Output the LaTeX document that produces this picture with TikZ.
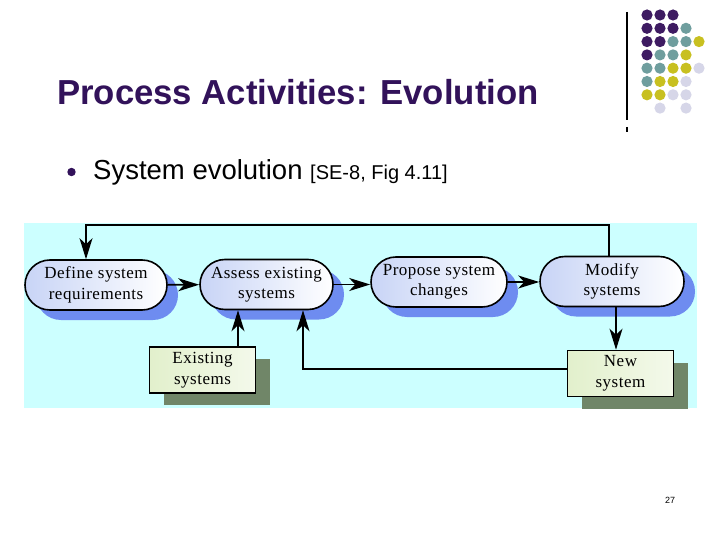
\documentclass[tikz,border=0pt]{standalone}
\usepackage{fontspec}
\usepackage{tikz}
\usetikzlibrary{positioning,arrows.meta,shadows}
\newfontfamily\slidefont{Liberation Sans}
\newfontfamily\diafont[LetterSpace=3]{Liberation Serif}

\definecolor{titlepurple}{RGB}{50,18,90}
\definecolor{dp}{RGB}{62,27,98}
\definecolor{tl}{RGB}{111,158,158}
\definecolor{yl}{RGB}{200,192,32}
\definecolor{lv}{RGB}{214,214,232}
\definecolor{bgcyan}{RGB}{204,255,255}
\definecolor{stadblue}{RGB}{200,212,246}
\definecolor{shadeblue}{RGB}{110,140,240}
\definecolor{boxgreen}{RGB}{226,240,204}
\definecolor{boxshadow}{RGB}{112,134,104}

\tikzset{
    activity/.style={draw, line width=1.6pt, rounded corners=25pt,
        minimum height=50pt, inner sep=0pt, align=center,
        left color=stadblue, right color=white,
        font=\diafont\fontsize{17}{20.5}\selectfont,
        drop shadow={shadow xshift=11pt, shadow yshift=-10pt,
            fill=shadeblue, opacity=1}},
    sysbox/.style={draw, line width=1.6pt, inner sep=0pt, align=center,
        minimum width=106pt, minimum height=46pt,
        left color=boxgreen, right color=boxgreen!40!white,
        font=\diafont\fontsize{17}{20.5}\selectfont,
        drop shadow={shadow xshift=14pt, shadow yshift=-12pt,
            fill=boxshadow, opacity=1}},
    arr/.style={line width=1.6pt, -{Stealth[length=21pt,width=13pt,inset=6pt]}}
}

\begin{document}
\begin{tikzpicture}[x=1pt,y=-1pt]
    \useasboundingbox[fill=white] (0,0) rectangle (720,540);

    % logo dots
    \draw[line width=1.1pt] (627,12) -- (627,120);
    \draw[line width=1.1pt] (627,127) -- (627,132);
    \foreach \r/\lst in {0/{1/dp,2/dp,3/dp},
                         1/{1/dp,2/dp,3/dp,4/tl},
                         2/{1/dp,2/dp,3/tl,4/tl,5/yl},
                         3/{1/dp,2/tl,3/tl,4/yl},
                         4/{1/tl,2/tl,3/yl,4/yl,5/lv},
                         5/{1/tl,2/yl,3/yl,4/lv},
                         6/{1/yl,2/yl,3/lv,4/lv},
                         7/{2/lv,4/lv}} {
        \foreach \k/\c in \lst {
            \fill[\c] (634+\k*13,15+\r*13.3) circle (5.6pt);
        }
    }

    % title and bullet
    \node[anchor=base west, inner sep=0pt, text=titlepurple,
          font=\slidefont\bfseries\fontsize{34.7}{40}\selectfont] (title) at (57,105)
          {Process Activities: Evolution};
    \fill[titlepurple] (71.5,172) circle (4.2pt);
    \node[anchor=base west, inner sep=0pt,
          font=\slidefont\fontsize{27.5}{32}\selectfont] (item) at (93,180)
          {System evolution \fontsize{20}{24}\selectfont[SE-8, Fig 4.11]};

    % diagram background
    \fill[bgcyan] (24,223) rectangle (697,408);

    \node[activity, minimum width=142pt] (define) at (96,285) {Define system\\requirements};
    \node[activity, minimum width=133pt] (assess) at (266.5,284.5) {Assess existing\\systems};
    \node[activity, minimum width=136pt] (propose) at (439,282) {Propose system\\changes};
    \node[activity, minimum width=144pt] (modify) at (612,281.5) {Modify\\systems};
    \node[sysbox] (existing) at (202.5,370) {Existing\\systems};
    \node[sysbox] (newsys) at (620.5,373.5) {New\\system};

    \coordinate (topline) at (0,225);
    \coordinate (fbdown) at ([xshift=-10pt]define.north);
    \coordinate (exup) at ([xshift=35.5pt]existing.north);
    \coordinate (retup) at ([xshift=36.5pt]assess.south);

    \draw[arr] (define) -- (assess);
    \draw[arr] (assess) -- (assess -| propose.west);
    \draw[arr] (propose) -- (propose -| modify.west);
    \draw[arr] ([xshift=4pt]modify.south) -- ([xshift=4pt]modify.south |- newsys.north);
    \draw[arr] (exup) -- (exup |- assess.south);
    \draw[arr] ([yshift=4.5pt]newsys.west) -| (retup);
    \draw[arr] ([xshift=-3pt]modify.north) |- (fbdown |- topline) -- (fbdown);

    % page number
    \node[font=\slidefont\fontsize{9}{10}\selectfont, inner sep=0pt] (pagenum) at (670,500) {27};
\end{tikzpicture}
\end{document}
